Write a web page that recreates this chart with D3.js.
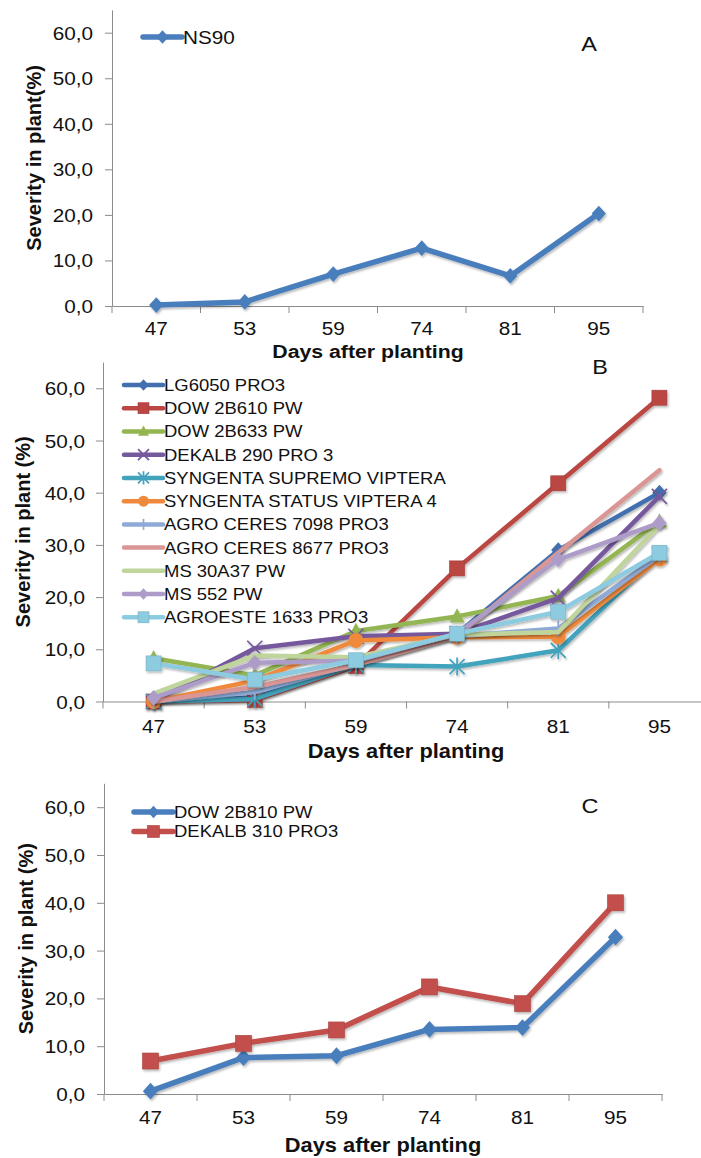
<!DOCTYPE html>
<html><head><meta charset="utf-8">
<script src="https://cdn.jsdelivr.net/npm/d3@7"></script>
<style>html,body{margin:0;padding:0;background:#fff}svg{display:block}</style>
</head><body><div id="chart"></div>
<script>
// ---------- DATA ----------
const days = ["47","53","59","74","81","95"];
const yTicks = [0,10,20,30,40,50,60];

// Panel A
const namesA = ["NS90"];
const ns90 = [0.2, 0.9, 7.0, 12.7, 6.6, 20.3];

// Panel B
const namesB = ["LG6050 PRO3","DOW 2B610 PW","DOW 2B633 PW","DEKALB 290 PRO 3",
  "SYNGENTA SUPREMO VIPTERA","SYNGENTA STATUS VIPTERA 4","AGRO CERES 7098 PRO3",
  "AGRO CERES 8677 PRO3","MS 30A37 PW","MS 552 PW","AGROESTE 1633 PRO3"];
const lg6050      = [0.0, 0.8, 7.0, 13.0, 29.0, 40.0];
const dow2b610    = [0.0, 0.3, 6.8, 25.5, 41.8, 58.2];
const dow2b633    = [8.3, 5.0, 13.5, 16.3, 20.2, 34.5];
const dekalb290   = [0.0, 10.2, 12.5, 13.0, 19.8, 39.3];
const supremo     = [0.0, 0.5, 7.0, 6.7, 9.8, 28.2];
const status4     = [0.0, 4.0, 11.7, 12.3, 12.4, 27.3];
const ceres7098   = [0.0, 1.8, 7.2, 12.5, 14.0, 28.0];
const ceres8677   = [0.0, 2.8, 7.0, 12.5, 28.5, 44.3];
const ms30a37     = [1.5, 8.8, 8.5, 12.8, 13.3, 33.8];
const ms552       = [0.7, 7.4, 7.8, 13.0, 27.2, 34.2];
const agroeste    = [7.3, 4.2, 7.9, 13.0, 17.2, 28.5];

// Panel C
const namesC = ["DOW 2B810 PW","DEKALB 310 PRO3"];
const dow2b810  = [0.6, 7.6, 8.0, 13.5, 13.9, 32.8];
const dekalb310 = [6.9, 10.6, 13.4, 22.4, 18.9, 40.0];

// ---------- STYLES ----------
const colorsA = ["#4a7ebd"];
const markersA = ["diamond"];
const colorsB = ["#4270ae","#bb4643","#93b552","#76599d","#42a3bd","#ef8a3c",
  "#8faad6","#d99694","#bfd59b","#ad9cc8","#8ccbe0"];
const markersB = ["diamond","square","triangle","x","star","circle","plus","none","none","diamond","square"];
const colorsC = ["#4a7ebd","#c24f4b"];
const markersC = ["diamond","square"];

const FONT = "'Liberation Sans', Arial, sans-serif";
const SX = 1.12;
const AXIS_COLOR = "#8c8c8c";
const TEXT_COLOR = "#111";

const svg = d3.select("#chart").append("svg").attr("width",701).attr("height",1158);
const defs = svg.append("defs");
const f = defs.append("filter").attr("id","sh").attr("x","-20%").attr("y","-20%").attr("width","140%").attr("height","140%");
f.append("feDropShadow").attr("dx",1.2).attr("dy",1.8).attr("stdDeviation",1.2)
  .attr("flood-color","#000").attr("flood-opacity",0.28);

function txt(g, x, y, s, size, opts={}) {
  return g.append("text")
    .attr("transform", `translate(${x},${y}) scale(${opts.sx||SX},1)`)
    .attr("text-anchor", opts.anchor || "start")
    .attr("font-family", FONT)
    .attr("font-size", size)
    .attr("font-weight", opts.bold ? "bold" : "normal")
    .attr("fill", TEXT_COLOR)
    .text(s);
}

function marker(g, type, cx, cy, s, color) {
  const h = s/2;
  if (type === "none") return;
  if (type === "diamond") {
    g.append("path").attr("d",`M${cx},${cy-h*1.05}L${cx+h*0.95},${cy}L${cx},${cy+h*1.05}L${cx-h*0.95},${cy}Z`).attr("fill",color);
  } else if (type === "square") {
    g.append("rect").attr("x",cx-h).attr("y",cy-h).attr("width",s).attr("height",s).attr("fill",color)
      .attr("stroke", d3.color(color).darker(0.4)).attr("stroke-width",0.6);
  } else if (type === "triangle") {
    g.append("path").attr("d",`M${cx},${cy-h*1.1}L${cx+h},${cy+h*0.8}L${cx-h},${cy+h*0.8}Z`).attr("fill",color);
  } else if (type === "circle") {
    g.append("circle").attr("cx",cx).attr("cy",cy).attr("r",h).attr("fill",color);
  } else if (type === "x" || type === "star") {
    const p = g.append("path").attr("stroke",color).attr("stroke-width",1.7).attr("fill","none");
    let d = `M${cx-h},${cy-h}L${cx+h},${cy+h}M${cx-h},${cy+h}L${cx+h},${cy-h}`;
    if (type === "star") d += `M${cx},${cy-h*1.2}L${cx},${cy+h*1.2}`;
    p.attr("d", d);
  } else if (type === "plus") {
    g.append("path").attr("stroke",color).attr("stroke-width",1.7).attr("fill","none")
      .attr("d",`M${cx},${cy-h}L${cx},${cy+h}`);
  }
}

function panel(cfg) {
  const g = svg.append("g");
  const x = d3.scaleBand().domain(days).range([cfg.left, cfg.right]);
  const bw = x.bandwidth();
  const y = d3.scaleLinear().domain([0,65]).range([cfg.y0, cfg.y0 - 65*cfg.unit]);

  // y axis
  const ya = g.append("g").attr("transform",`translate(${cfg.left},0)`)
    .call(d3.axisLeft(y).tickValues(yTicks).tickSize(7).tickSizeOuter(0).tickPadding(cfg.yPad)
      .tickFormat(d => d3.format(".1f")(d).replace(".",",")));
  ya.select(".domain").attr("stroke",AXIS_COLOR);
  ya.selectAll(".tick line").attr("stroke",AXIS_COLOR);
  ya.selectAll(".tick text").each(function(){
    const t = d3.select(this);
    const xx = +t.attr("x");
    t.attr("x",0).attr("dy",null).attr("y",0)
     .attr("transform",`translate(${xx},6.5) scale(${SX},1)`);
  }).attr("font-family",FONT).attr("font-size",cfg.tickSize).attr("fill",TEXT_COLOR);

  // x axis
  const xa = g.append("g").attr("transform",`translate(0,${cfg.y0})`)
    .call(d3.axisBottom(x).tickSize(0).tickSizeOuter(0));
  xa.select(".domain").attr("stroke",AXIS_COLOR);
  xa.selectAll(".tick text").each(function(){
    const t = d3.select(this);
    t.attr("y",0).attr("dy",null).attr("transform",`translate(0,${cfg.xLabOff}) scale(${SX},1)`);
  }).attr("font-family",FONT).attr("font-size",cfg.tickSize).attr("fill",TEXT_COLOR);
  const bounds = days.map(d => x(d)).concat([cfg.right]);
  xa.selectAll("line.bt").data(bounds).enter().append("line").attr("class","bt")
    .attr("x1",d=>d).attr("x2",d=>d).attr("y1",0).attr("y2",7).attr("stroke",AXIS_COLOR);

  // titles
  txt(g, cfg.xTitleX, cfg.xTitleY, "Days after planting", cfg.titleSize, {anchor:"middle", bold:true});
  g.append("text").attr("transform",`translate(${cfg.yTitleX},${(y(0)+y(65))/2}) rotate(-90)`)
    .attr("text-anchor","middle").attr("font-family",FONT).attr("font-weight","bold")
    .attr("font-size",cfg.yTitleSize).attr("fill",TEXT_COLOR).text(cfg.yTitle);
  txt(g, cfg.letterX, cfg.letterY, cfg.letter, cfg.letterSize, {anchor:"middle"});

  // series
  const line = d3.line().x((d,i)=>x(days[i])+bw/2).y(d=>y(d));
  cfg.series.forEach((vals, k) => {
    const sg = g.append("g").attr("filter","url(#sh)");
    sg.append("path").attr("d", line(vals)).attr("fill","none")
      .attr("stroke",cfg.colors[k]).attr("stroke-width",cfg.lw)
      .attr("stroke-linejoin","round").attr("stroke-linecap","round");
    vals.forEach((v,i) => marker(sg, cfg.markers[k], x(days[i])+bw/2, y(v), cfg.ms, cfg.colors[k]));
  });

  // legend
  cfg.names.forEach((n,k) => {
    const ly = cfg.legY + k*cfg.legDy;
    const lg = g.append("g");
    lg.append("line").attr("x1",cfg.legX).attr("x2",cfg.legX+39).attr("y1",ly).attr("y2",ly)
      .attr("stroke",cfg.colors[k]).attr("stroke-width",cfg.lw).attr("stroke-linecap","round");
    marker(lg, cfg.markers[k], cfg.legX+19.5, ly, cfg.legMs, cfg.colors[k]);
    txt(lg, cfg.legX+40, ly + cfg.legFont*0.36, n, cfg.legFont);
  });
}

panel({
  left:112, right:643, y0:306, unit:4.555, yPad:12, tickSize:18.5, xLabOff:29,
  xTitleX:368, xTitleY:357.5, titleSize:19, yTitleX:41, yTitleSize:20, yTitle:"Severity in plant(%)",
  letter:"A", letterX:589, letterY:51, letterSize:21,
  series:[ns90], names:namesA, colors:colorsA, markers:markersA, lw:5.5, ms:15,
  legX:143, legY:37, legDy:23, legFont:18.5, legMs:13
});

panel({
  left:103, right:710, y0:701.5, unit:5.22, yPad:11, tickSize:18.5, xLabOff:31,
  xTitleX:406, xTitleY:758, titleSize:19.5, yTitleX:30, yTitleSize:20, yTitle:"Severity in plant (%)",
  letter:"B", letterX:600, letterY:374, letterSize:21,
  series:[lg6050,dow2b610,dow2b633,dekalb290,supremo,status4,ceres7098,ceres8677,ms30a37,ms552,agroeste],
  names:namesB, colors:colorsB, markers:markersB, lw:4.5, ms:15,
  legX:124, legY:385, legDy:23.23, legFont:16.5, legMs:11
});

panel({
  left:104, right:662, y0:1094, unit:4.78, yPad:12, tickSize:18.5, xLabOff:30,
  xTitleX:383, xTitleY:1152, titleSize:19.5, yTitleX:33, yTitleSize:20, yTitle:"Severity in plant (%)",
  letter:"C", letterX:590, letterY:813, letterSize:21,
  series:[dow2b810,dekalb310], names:namesC, colors:colorsC, markers:markersC, lw:5.5, ms:16,
  legX:134, legY:812, legDy:19.5, legFont:16.5, legMs:12
});
</script></body></html>
